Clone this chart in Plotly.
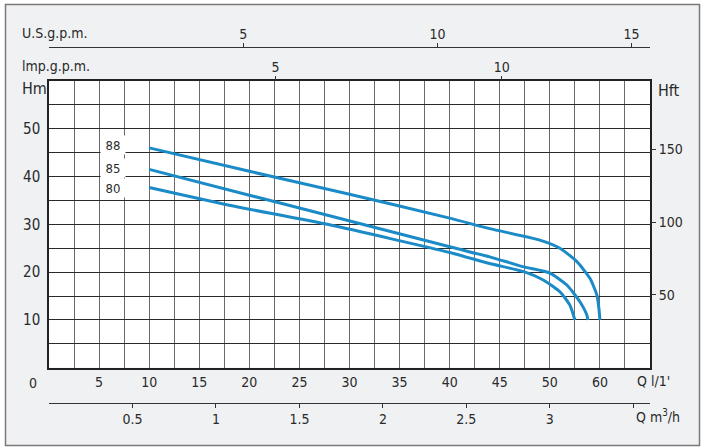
import plotly.graph_objects as go

# ---- data ----
q88 = [10, 20, 30, 40, 44, 49, 51, 52.7, 54, 54.7, 54.9, 55]
h88 = [46.0, 41.1, 36.3, 31.3, 29.1, 26.7, 25.0, 22.2, 18.7, 15.2, 12.4, 10.0]
q85 = [10, 20, 28, 40, 44, 47.4, 50, 51.7, 53, 53.7, 53.8]
h85 = [41.5, 36.1, 31.8, 25.3, 23.2, 21.1, 19.8, 17.3, 13.8, 11.0, 10.0]
q80 = [10, 18, 28, 40, 44, 47.4, 49.3, 51, 52, 52.5]
h80 = [37.7, 34.0, 29.9, 24.1, 21.8, 20.1, 18.4, 15.9, 13.1, 10.0]
curve_names = ["88", "85", "80"]

q_grid = [i * 2.5 for i in range(25)]
q_labels = {5: "5", 10: "10", 15: "15", 20: "20", 25: "25", 30: "30", 35: "35",
            40: "40", 45: "45", 50: "50", 55: "60"}
h_grid = [i * 5 for i in range(13)]
h_labels = {10: "10", 20: "20", 30: "30", 40: "40", 50: "50"}
hft_ticks = [50, 100, 150]
m3h_ticks = [0.5, 1, 1.5, 2, 2.5, 3, 3.5]
m3h_labels = ["0.5", "1", "1.5", "2", "2.5", "3", ""]
usgpm_ticks = [5, 10, 15]
impgpm_ticks = [5, 10]

FONT = "DejaVu Sans Condensed, Liberation Sans Narrow, sans-serif"
TXT = "#2a2a2a"
BLUE = "#1b8bc7"

fig = go.Figure()
for q, h, n in [(q88, h88, curve_names[0]), (q85, h85, curve_names[1]), (q80, h80, curve_names[2])]:
    fig.add_trace(go.Scatter(x=q, y=h, mode="lines", name=n,
                             line=dict(color=BLUE, width=3, shape="spline", smoothing=0.6),
                             showlegend=False, hoverinfo="skip"))

def ghost(**kw):
    fig.add_trace(go.Scatter(x=[0], y=[0], mode="markers", marker=dict(opacity=0),
                             showlegend=False, hoverinfo="skip", **kw))

ghost(yaxis="y2")
for ax in ["x2", "x3", "x4", "x5", "x6", "x7"]:
    ghost(xaxis=ax)

L, R, T, B = 49, 55, 47, 44
W, H = 705, 447
ph = H - T - B
grid_top, grid_bot = 81, 367.7
dom_y = [(H - B - grid_bot) / ph, (H - B - grid_top) / ph]

m3h_range = [0, 60 / (1000 / 60)]
us_range = [0, 601 / 38.84]
imp_range = [0, 601 / 45.28]

tick_only = dict(showgrid=False, zeroline=False, showline=False, showticklabels=False,
                 ticks="outside", ticklen=4, tickcolor="#333", tickwidth=1.2,
                 automargin=False, overlaying="x")
label_only = dict(showgrid=False, zeroline=False, ticks="outside", ticklen=1,
                  tickcolor="rgba(0,0,0,0)", automargin=False,
                  overlaying="x", tickfont=dict(size=14))

fig.update_layout(
    width=W, height=H,
    margin=dict(l=L, r=R, t=T, b=B, pad=0, autoexpand=False),
    paper_bgcolor="white",
    plot_bgcolor="white",
    font=dict(family=FONT, size=14, color=TXT),
    xaxis=dict(
        range=[0, 60], domain=[0, 1], anchor="y", automargin=False,
        tickmode="array", tickvals=q_grid,
        ticktext=[q_labels.get(v, "") for v in q_grid],
        showgrid=True, gridcolor="#6a6a6a", gridwidth=1.4,
        showline=True, linecolor="#222", linewidth=1.5, mirror=True,
        zeroline=False, ticks="", ticklabelstandoff=1,
        tickfont=dict(size=14),
    ),
    yaxis=dict(
        range=[0, 60], domain=dom_y, anchor="x", automargin=False,
        tickmode="array", tickvals=h_grid,
        ticktext=[h_labels.get(v, "") for v in h_grid],
        showgrid=True, gridcolor="#2a2a2a", gridwidth=1.4,
        showline=True, linecolor="#222", linewidth=1.5, mirror=True,
        zeroline=False, ticks="", ticklabelstandoff=4,
        tickfont=dict(size=15),
    ),
    yaxis2=dict(
        range=[0, 60 * 3.28084], overlaying="y", side="right", anchor="x", automargin=False,
        tickmode="array", tickvals=hft_ticks,
        showgrid=False, zeroline=False, showline=False,
        ticks="outside", ticklen=5, tickcolor="#333", tickwidth=1.2,
        ticklabelstandoff=0, tickfont=dict(size=14),
    ),
    # m3/h: line + labels, and separate ticks
    xaxis2=dict(
        range=m3h_range, anchor="free", position=0, side="bottom",
        tickmode="array", tickvals=m3h_ticks, ticktext=m3h_labels,
        showline=True, linecolor="#333", linewidth=1.3, ticklabelstandoff=2,
        **label_only,
    ),
    xaxis5=dict(range=m3h_range, anchor="free", position=0, side="bottom",
                tickmode="array", tickvals=m3h_ticks, **tick_only),
    # U.S. gpm
    xaxis3=dict(
        range=us_range, anchor="free", position=1, side="top",
        tickmode="array", tickvals=usgpm_ticks,
        showline=True, linecolor="#333", linewidth=1.3, ticklabelstandoff=1,
        **label_only,
    ),
    xaxis6=dict(range=us_range, anchor="free", position=1, side="top",
                tickmode="array", tickvals=usgpm_ticks, **tick_only),
    # Imp gpm
    xaxis4=dict(
        range=imp_range, anchor="y", side="top",
        tickmode="array", tickvals=impgpm_ticks,
        showline=False, ticklabelstandoff=1,
        **label_only,
    ),
    xaxis7=dict(range=imp_range, anchor="y", side="top",
                tickmode="array", tickvals=impgpm_ticks, **tick_only),
)

def px2paper_x(px):
    return (px - L) / (W - L - R)

def px2paper_y(py):
    return (H - B - py) / ph

# outer light panel
fig.add_shape(type="rect", xref="paper", yref="paper", layer="below",
              x0=px2paper_x(5.5), x1=px2paper_x(699.5),
              y0=px2paper_y(445.5), y1=px2paper_y(4.5),
              fillcolor="#f0f1f3", line=dict(color="#7a7a7a", width=1.5))
fig.add_shape(type="rect", xref="x", yref="y", layer="below",
              x0=0, x1=60, y0=0, y1=60, fillcolor="white", line=dict(width=0))

# curve labels
label_pos = [(46.6, "88"), (41.8, "85"), (37.6, "80")]
for hv, t in label_pos:
    fig.add_annotation(x=6.4, y=hv, xref="x", yref="y", text=t, showarrow=False,
                       font=dict(size=13, color=TXT), bgcolor="white",
                       width=22, height=16, borderpad=1)

def txt(px, py, text, size=14, xanchor="left"):
    fig.add_annotation(x=px2paper_x(px), y=px2paper_y(py), xref="paper", yref="paper",
                       text=text, showarrow=False, xanchor=xanchor, yanchor="middle",
                       font=dict(size=size, color=TXT))

txt(20, 33, "U.S.g.p.m.", 14)
txt(20, 66, "lmp.g.p.m.", 14)
txt(20, 89, "Hm", 16)
txt(656, 90, "Hft", 16)
txt(33, 382.7, "0", 14, "center")
txt(635, 381, "Q l/1'", 14)
txt(634, 416, "Q m<sup>3</sup>/h", 14)

fig.write_html("out.html", config={"displayModeBar": False},
               post_script="document.body.style.margin='0';document.body.style.overflow='hidden';")
